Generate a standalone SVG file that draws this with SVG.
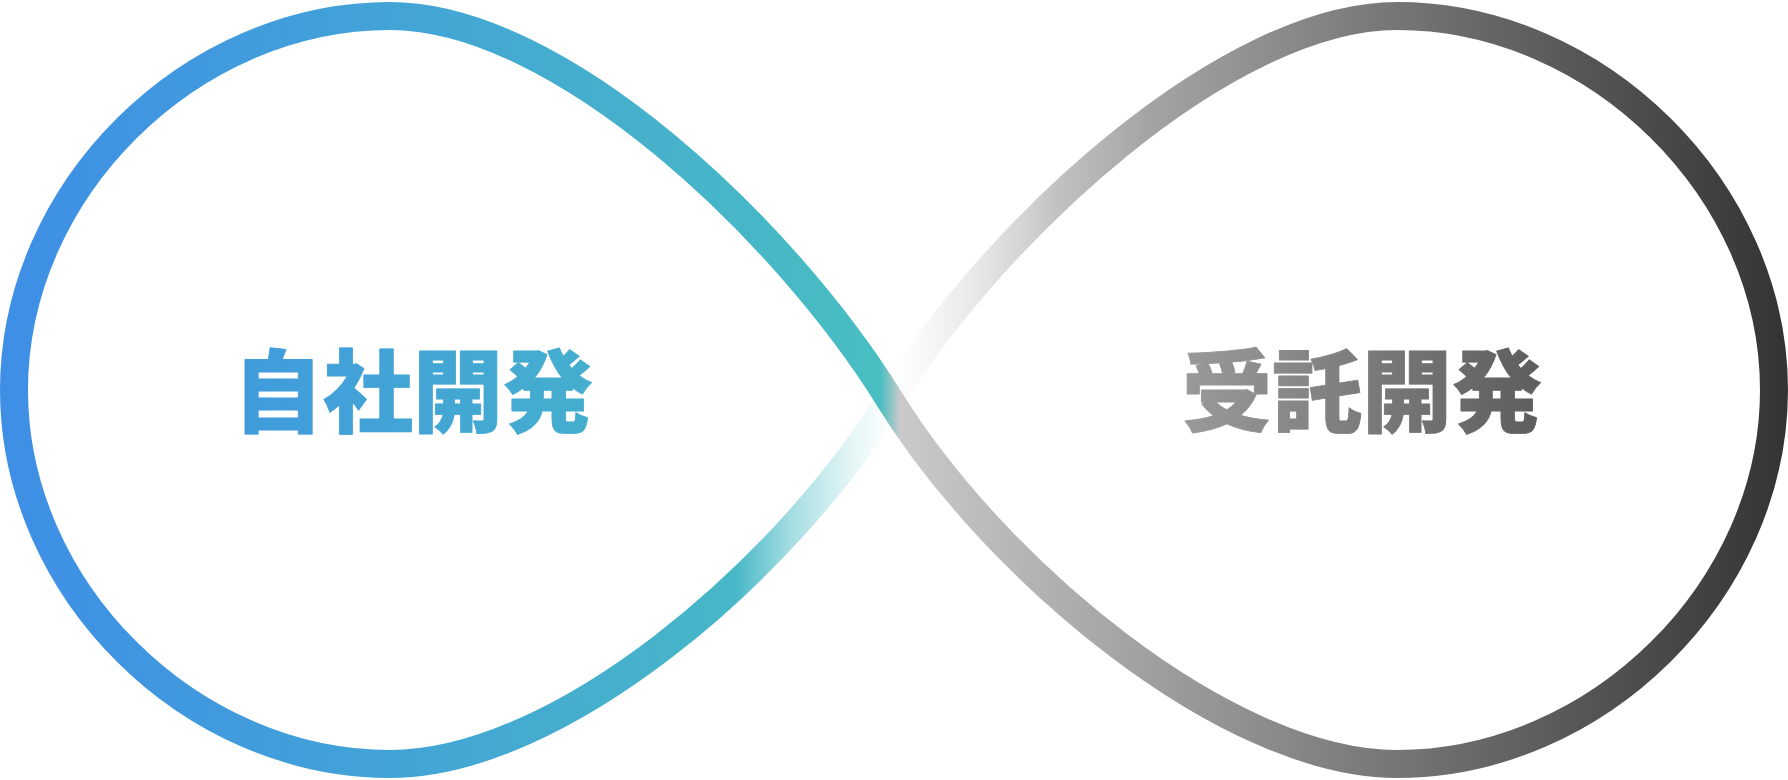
<svg xmlns="http://www.w3.org/2000/svg" width="1788" height="780" viewBox="0 0 1788 780">
  <defs>
    <linearGradient id="gMain" gradientUnits="userSpaceOnUse" x1="0" y1="0" x2="1788" y2="0">
      <stop offset="0" stop-color="#3E8EE6"/>
      <stop offset="0.4922" stop-color="#48BEC2"/>
      <stop offset="0.5034" stop-color="#CACACA"/>
      <stop offset="1" stop-color="#333333"/>
    </linearGradient>
    <linearGradient id="gFadeLeft" gradientUnits="userSpaceOnUse" x1="390" y1="0" x2="890" y2="0">
      <stop offset="0" stop-color="#42A3D6" stop-opacity="1"/>
      <stop offset="0.69" stop-color="#47B7C7" stop-opacity="1"/>
      <stop offset="0.8" stop-color="#48BAC5" stop-opacity="0.5"/>
      <stop offset="0.92" stop-color="#48BEC2" stop-opacity="0.15"/>
      <stop offset="1" stop-color="#48BEC2" stop-opacity="0"/>
    </linearGradient>
    <linearGradient id="gFadeRight" gradientUnits="userSpaceOnUse" x1="890" y1="0" x2="1397" y2="0">
      <stop offset="0" stop-color="#D2DCDE" stop-opacity="0"/>
      <stop offset="0.14" stop-color="#C8CCCC" stop-opacity="0.35"/>
      <stop offset="0.33" stop-color="#B2B2B2" stop-opacity="0.8"/>
      <stop offset="0.51" stop-color="#A4A4A4" stop-opacity="1"/>
      <stop offset="1" stop-color="#757575" stop-opacity="1"/>
    </linearGradient>
    <style>
      .strand { fill: none; stroke-width: 28; stroke-linecap: butt; stroke-linejoin: round; }
      .label { font-family: "Noto Sans CJK JP", "Noto Sans", sans-serif; font-size: 90px; font-weight: 900; text-anchor: middle; fill: url(#gMain); stroke: url(#gMain); stroke-width: 0.8; stroke-linejoin: round; }
    </style>
  </defs>
  <rect width="1788" height="780" fill="#FFFFFF"/>
  <g id="connectors">
    <path id="fade-lower-left" class="strand" stroke="url(#gFadeLeft)" d="M 390,764 C 560,764 784.6,570 890,400"/>
    <path id="fade-upper-right" class="strand" stroke="url(#gFadeRight)" d="M 890,400 C 995.4,230 1227,16 1397,16"/>
    <path id="main-loop" class="strand" stroke="url(#gMain)" d="M 390,764 C 190,764 14,590 14,390 C 14,190 190,16 390,16 C 560,16 784.6,230 890,400 C 995.4,570 1227,764 1397,764 C 1597,764 1774,590 1774,390 C 1774,190 1597,16 1397,16"/>
  </g>
  <g id="node-jisha">
    <text class="label" x="413" y="425">自社開発</text>
  </g>
  <g id="node-jutaku">
    <text class="label" x="1362" y="425">受託開発</text>
  </g>
</svg>
